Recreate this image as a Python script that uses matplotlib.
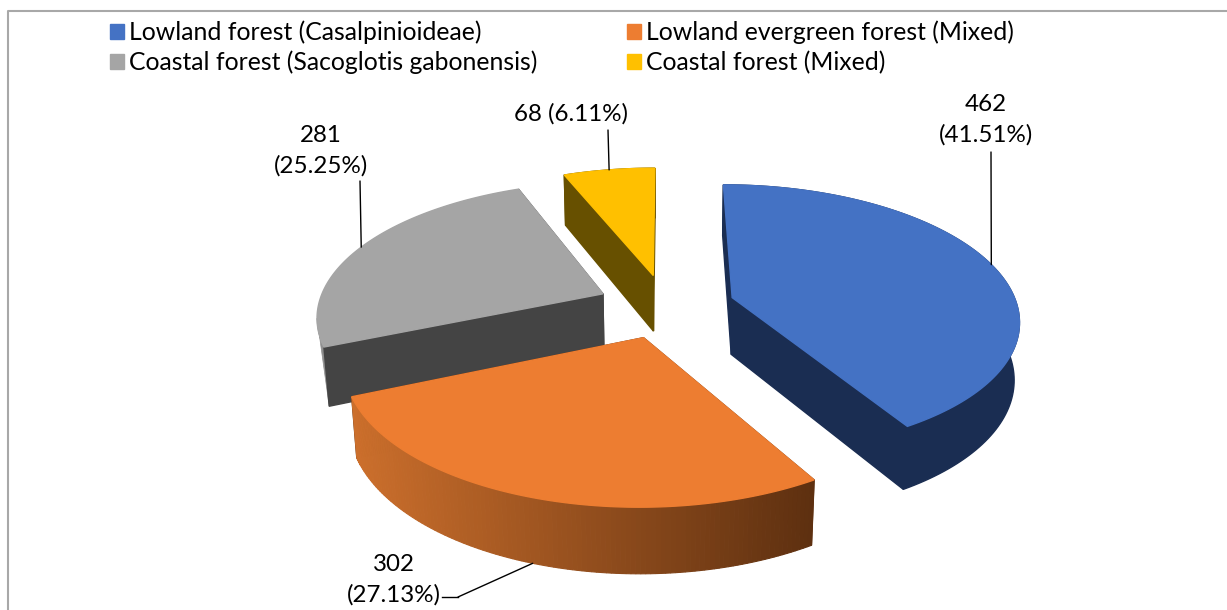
import numpy as np
import matplotlib.pyplot as plt
from matplotlib.colors import to_rgb
from matplotlib.patches import Patch, Polygon

categories = ['Lowland forest (Casalpinioideae)', 'Lowland evergreen forest (Mixed)',
              'Coastal forest (Sacoglotis gabonensis)', 'Coastal forest (Mixed)']
values = [462, 302, 281, 68]
top_colors = ['#4472c4', '#ed7d31', '#a5a5a5', '#ffc000']
side_colors = ['#1a2d52', '#5e3010', '#444444', '#675000']
label_pos = [(986, 120), (394, 580), (321, 151), (571, 114)]
leader_start = [(991, 152), (458, 597), (360, 181), (608, 130)]

# projection of the tilted pie, in image pixels
cx, cy = 666, 306
rx, ry = 285, 132.5
persp = 0.154
explode = 0.243
depth = 58
shrink = 0.015


def project(x, y, bottom=False):
    w = 1 + persp * y
    if bottom:
        return cx + rx * x / (w + shrink), cy + (depth - ry * y) / (w + shrink)
    return cx + rx * x / w, cy - ry * y / w


def points(xs, ys, bottom=False):
    return np.column_stack(project(np.asarray(xs), np.asarray(ys), bottom))


plt.rcParams['font.family'] = ['Lato', 'DejaVu Sans']
fig = plt.figure(figsize=(12.27, 6.10), dpi=100)
ax = fig.add_axes([0, 0, 1, 1])
ax.set_xlim(0, 1227)
ax.set_ylim(610, 0)
ax.axis('off')

# chart frame, cut off by the right and bottom of the picture
ax.plot([8, 8, 1240], [620, 10.5, 10.5], color='#a8a8a8', lw=1.5, clip_on=True)

total = sum(values)
angles = np.cumsum([0] + values) / total * 360

# back slices first
for n, i in enumerate([3, 2, 0, 1]):
    z = 2 + n
    t0, t1 = np.radians(angles[i]), np.radians(angles[i + 1])
    mid = (t0 + t1) / 2
    ox, oy = explode * np.sin(mid), explode * np.cos(mid)
    t = np.linspace(t0, t1, 120)
    xs, ys = ox + np.sin(t), oy + np.cos(t)
    top = points(xs, ys)
    low = points(xs, ys, True)
    apex_top = points([ox], [oy])
    apex_low = points([ox], [oy], True)

    # the two cut faces
    for k in [0, -1]:
        face = np.vstack([apex_top, top[k], low[k], apex_low])
        ax.add_patch(Polygon(face, fc=side_colors[i], ec=side_colors[i], lw=1, zorder=z + 0.1))

    # outer wall, orange one has a gradient, grey only shows a thin sliver
    if i == 1:
        c0 = np.array(to_rgb('#cc6f2c'))
        c1 = np.array(to_rgb(side_colors[1]))
        left, right = top[:, 0].min(), top[:, 0].max()
        for j in range(len(t) - 1):
            f = (top[j, 0] - left) / (right - left)
            col = c0 + (c1 - c0) * f
            quad = np.vstack([top[j:j + 2], low[j:j + 2][::-1]])
            ax.add_patch(Polygon(quad, fc=col, ec=col, lw=0.8, zorder=z + 0.2))
    elif i == 2:
        far = np.argmin(top[:, 0])
        wall = np.vstack([top[:far + 1], low[:1]])
        ax.add_patch(Polygon(wall, fc='#8f8f8f', ec='#8f8f8f', lw=0.5, zorder=z))
    else:
        wall = np.vstack([top, low[::-1]])
        ax.add_patch(Polygon(wall, fc=side_colors[i], ec=side_colors[i], lw=1, zorder=z + 0.2))

    ax.add_patch(Polygon(np.vstack([apex_top, top]), fc=top_colors[i], ec=top_colors[i], lw=1, zorder=z + 0.3))

    # data label with its leader line
    rim = project(ox + np.sin(mid), oy + np.cos(mid), i == 1)
    text = f'{values[i]}\n({values[i] / total:.2%})'
    if i == 3:
        text = f'{values[i]} ({values[i] / total:.2%})'
    ax.text(label_pos[i][0], label_pos[i][1], text, ha='center', va='center',
            fontsize=17.4, linespacing=1.52, color='black', zorder=10)
    ax.annotate('', xy=rim, xytext=leader_start[i], zorder=10,
                arrowprops=dict(arrowstyle='-', color='black', lw=1, shrinkA=0, shrinkB=0))
    if i == 1:
        ax.plot([442, leader_start[i][0]], [597, leader_start[i][1]], color='black', lw=1)

handles = [Patch(fc=c, ec=c) for c in top_colors]
order = [0, 2, 1, 3]
ax.legend([handles[k] for k in order], [categories[k] for k in order], ncol=2,
          loc='upper left', bbox_to_anchor=(110, 20.5), bbox_transform=ax.transData,
          frameon=False, fontsize=17.8, handlelength=0.55, handleheight=0.55,
          handletextpad=0.22, columnspacing=3.62, labelspacing=0.27,
          borderpad=0, borderaxespad=0)

fig.savefig('out.png', dpi=100)
